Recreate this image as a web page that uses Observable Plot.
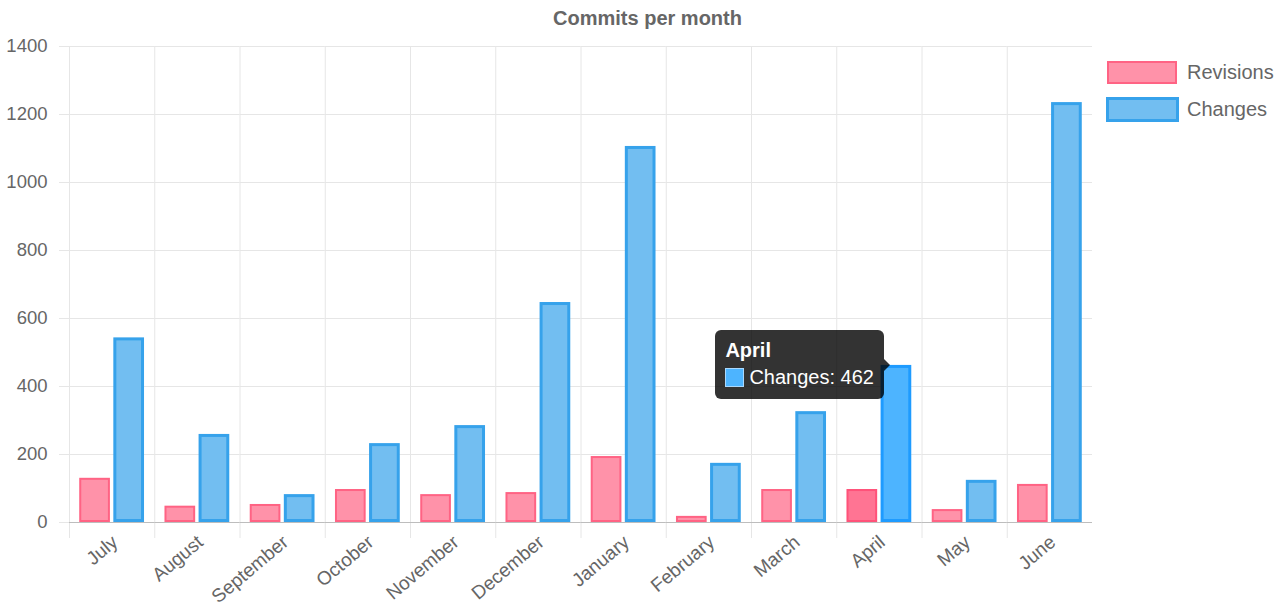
<!DOCTYPE html>
<html>
<head>
<meta charset="utf-8">
<script src="https://cdn.jsdelivr.net/npm/d3@7"></script>
<script src="https://cdn.jsdelivr.net/npm/@observablehq/plot@0.6"></script>
<style>
  html, body { margin: 0; padding: 0; background: #fff; }
  #wrap { position: relative; width: 1281px; height: 609px; overflow: hidden; font-family: "Liberation Sans", Arial, sans-serif; }
  #title { position: absolute; left: 0; width: 1295px; top: 7px; text-align: center; font-weight: bold; font-size: 20px; color: #666; }
  #chart { position: absolute; left: 0; top: 36px; }
  .leg-box { position: absolute; box-sizing: border-box; }
  .leg-text { position: absolute; font-size: 20px; color: #666; line-height: 23px; }
  #tip { position: absolute; box-sizing: border-box; background: rgba(0,0,0,0.8); color: #fff; border-radius: 6px;
         padding: 9px 10px 10px 10px; font-size: 20px; line-height: 23px; white-space: nowrap; }
  #tip .t { font-weight: bold; margin-bottom: 4px; }
  #tip .sw { display: inline-block; box-sizing: border-box; width: 19px; height: 19px; vertical-align: -3px; margin-right: 5px; border: 1px solid #a9d9ff; }
  #tip .caret { position: absolute; right: -6px; top: 50%; margin-top: -6px; width: 0; height: 0;
                border-top: 6px solid transparent; border-bottom: 6px solid transparent; border-left: 6px solid rgba(0,0,0,0.8); }
</style>
</head>
<body>
<div id="wrap">
  <div id="title">Commits per month</div>
  <div id="chart"></div>
</div>
<script>
// ---- data ----
const months = ["July", "August", "September", "October", "November", "December",
                "January", "February", "March", "April", "May", "June"];
const revisions = [130, 48, 53, 97, 82, 88, 194, 18, 97, 97, 38, 112];
const changes   = [543, 259, 82, 232, 285, 647, 1106, 174, 326, 462, 124, 1235];
const seriesNames = ["Revisions", "Changes"];
const yTicks = [0, 200, 400, 600, 800, 1000, 1200, 1400];
const hoverMonth = "April";
const hoverSeries = "Changes";

// ---- styles ----
const colors = {
  Revisions: { fill: "#FF92A9", stroke: "#FF6384", hoverFill: "#FF7493", hoverStroke: "#FF5279", width: 2 },
  Changes:   { fill: "#72BEF1", stroke: "#36A2EB", hoverFill: "#4DB4FF", hoverStroke: "#1E9BFF", width: 3 }
};

const rows = months.flatMap((m, i) => [
  { month: m, series: "Revisions", value: revisions[i] },
  { month: m, series: "Changes", value: changes[i] }
]);

const W = 1100, H = 573, ML = 69, MR = 8, MT = 10, MB = 87;
const step = (W - ML - MR) / months.length;

function barsFor(name) {
  const c = colors[name];
  const sw = c.width;
  return Plot.barY(rows.filter(d => d.series === name), {
    fx: "month", x: "series", y: "value",
    fill: d => d.month === hoverMonth ? c.hoverFill : c.fill,
    stroke: d => d.month === hoverMonth ? c.hoverStroke : c.stroke,
    strokeWidth: sw,
    insetLeft: sw / 2, insetRight: sw / 2, insetTop: sw / 2, insetBottom: sw / 2
  });
}

const plot = Plot.plot({
  width: W, height: H,
  marginLeft: ML, marginRight: MR, marginTop: MT, marginBottom: MB,
  style: { fontFamily: "Liberation Sans, Arial, sans-serif", fontSize: "18px", color: "#666", background: "white" },
  fx: { domain: months, padding: 0, round: false, axis: null, label: null },
  x: { domain: seriesNames, paddingInner: 0.1, paddingOuter: 0.3, round: false, axis: null },
  y: { domain: [0, 1400], axis: null },
  marks: [
    Plot.gridY(yTicks, { stroke: "#e6e6e6", strokeOpacity: 1 }),
    Plot.gridFx({ dx: -step / 2, stroke: "#e6e6e6", strokeOpacity: 1 }),
    Plot.axisFx({ anchor: "bottom", tickSize: 16, dx: -step / 2, tickFormat: () => "", stroke: "#e6e6e6", label: null }),
    Plot.axisFx({ anchor: "bottom", tickSize: 0, tickPadding: 17, tickRotate: -40, dx: 3, fill: "#666", fontSize: 19, label: null }),
    Plot.axisY(yTicks, { anchor: "left", tickSize: 10, tickPadding: 12, tickFormat: d => String(d), stroke: "#e6e6e6", fill: "#666", fontSize: 18.5, label: null }),
    Plot.axisY(yTicks, { anchor: "left", tickSize: 0, tickFormat: () => "", line: true, stroke: "#bdbdbd", label: null }),
    Plot.ruleY([0], { stroke: "#bdbdbd" }),
    barsFor("Revisions"),
    barsFor("Changes")
  ]
});

const wrap = document.getElementById("wrap");
document.getElementById("chart").appendChild(plot);

// ---- legend (right side) ----
const legendItems = [
  { name: "Revisions", left: 1107, top: 61, w: 70, h: 23, bw: 2, textTop: 61 },
  { name: "Changes",   left: 1106, top: 97, w: 73, h: 25, bw: 3, textTop: 98 }
];
legendItems.forEach(it => {
  const c = colors[it.name];
  const b = document.createElement("div");
  b.className = "leg-box";
  Object.assign(b.style, { left: it.left + "px", top: it.top + "px", width: it.w + "px", height: it.h + "px",
    background: c.fill, border: it.bw + "px solid " + c.stroke });
  wrap.appendChild(b);
  const t = document.createElement("div");
  t.className = "leg-text";
  t.textContent = it.name;
  Object.assign(t.style, { left: "1187px", top: it.textTop + "px" });
  wrap.appendChild(t);
});

// ---- tooltip anchored to the hovered bar ----
const idx = months.indexOf(hoverMonth);
const hoverValue = (hoverSeries === "Changes" ? changes : revisions)[idx];
const tip = document.createElement("div");
tip.id = "tip";
tip.innerHTML = `<div class="t">${hoverMonth}</div><div><span class="sw" style="background:${colors[hoverSeries].hoverFill}"></span>${hoverSeries}: ${hoverValue}</div><div class="caret"></div>`;
wrap.appendChild(tip);

const wrapBox = wrap.getBoundingClientRect();
const hoverColor = colors[hoverSeries].hoverFill.toLowerCase();
const target = Array.from(plot.querySelectorAll("rect"))
  .filter(r => (r.getAttribute("fill") || "").toLowerCase() === hoverColor)
  .map(r => r.getBoundingClientRect())[0];
if (target) {
  const cx = (target.left + target.right) / 2 - wrapBox.left;
  const ty = target.top - wrapBox.top - colors[hoverSeries].width / 2;
  const tb = tip.getBoundingClientRect();
  tip.style.left = (cx - 12 - tb.width) + "px";
  tip.style.top = (ty - tb.height / 2) + "px";
}
</script>
</body>
</html>
